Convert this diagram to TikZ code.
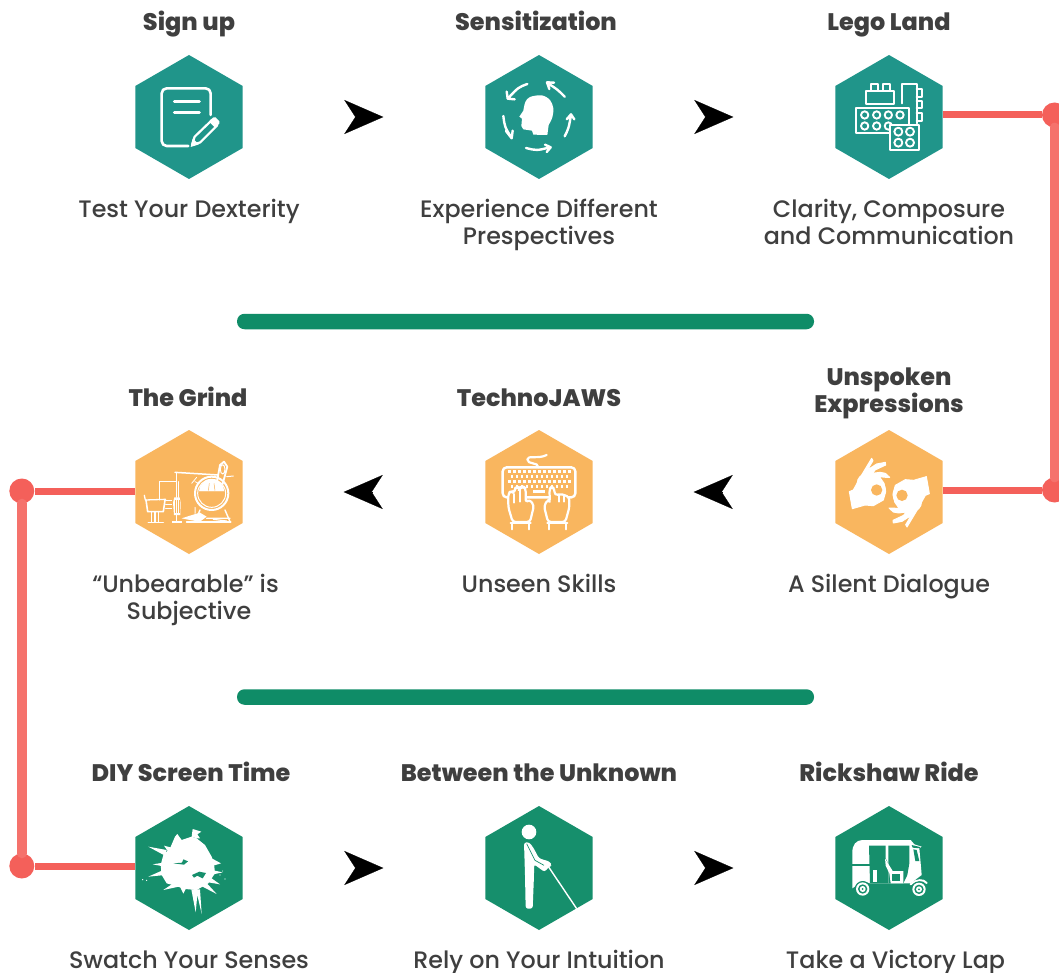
\documentclass[tikz,border=0pt]{standalone}
\usepackage{fontspec}
\setmainfont{Poppins}[UprightFont={* Medium}]
\newfontfamily\titlefont{Poppins}[UprightFont={* ExtraBold},BoldFont={* ExtraBold}]
\usetikzlibrary{arrows.meta,shapes.geometric}
\definecolor{tealA}{HTML}{20958A}
\definecolor{amberA}{HTML}{F9B65F}
\definecolor{greenA}{HTML}{168F6C}
\definecolor{barA}{HTML}{0F8C67}
\definecolor{linkA}{HTML}{F4605A}
\definecolor{linkB}{HTML}{F5726C}
\definecolor{inkA}{HTML}{3F3F3F}
\tikzset{
  hex/.style={regular polygon,regular polygon sides=6,shape border rotate=30,minimum size=124pt,inner sep=0pt,outer sep=0pt,fill=#1},
  ttl/.style={anchor=base,align=center,text=inkA,font=\titlefont\fontsize{23.9}{27}\selectfont},
  captxt/.style={anchor=base,align=center,text=inkA,font=\fontsize{23.8}{27}\selectfont},
  barnode/.style={rectangle,rounded corners=7.5pt,minimum width=577pt,minimum height=15.5pt,inner sep=0pt,fill=barA},
  link/.style={line width=7pt,color=linkA},
  vlink/.style={line width=10pt,color=linkB,line cap=round},
  dotnode/.style={circle,minimum size=25pt,inner sep=0pt,fill=linkA},
  flowR/.style={draw=black,line width=.2pt,shorten >=102pt,shorten <=114pt,-{Stealth[length=39pt,width=34pt,inset=11pt]}},
  flowL/.style={draw=black,line width=.2pt,shorten >=101pt,shorten <=113pt,-{Stealth[length=39pt,width=34pt,inset=11pt]}},
  wl/.style={draw=white,line cap=round,line join=round,line width=#1},
  wl/.default=2.4pt,
  zoomed/.style={shift={#1},x=1pt/3,y=-1pt/3},
}
\begin{document}
\begin{tikzpicture}[x=1pt,y=-1pt]
\path[clip] (0,0) rectangle (1059,973);
\fill[white] (0,0) rectangle (1059,973);

% dots
\node[dotnode] (d1) at (1054.5,115) {};
\node[dotnode] (d2) at (1054.5,490) {};
\node[dotnode] (d3) at (21.8,491) {};
\node[dotnode] (d4) at (21.8,866) {};

% hexagons
\node[hex=tealA] (signup) at (189,117) {};
\node[hex=tealA] (sens) at (539,117) {};
\node[hex=tealA] (lego) at (889,117) {};
\node[hex=amberA] (unspoken) at (889,492) {};
\node[hex=amberA] (techno) at (539,492) {};
\node[hex=amberA] (grind) at (189,492) {};
\node[hex=greenA] (diy) at (189,868) {};
\node[hex=greenA] (between) at (539,868) {};
\node[hex=greenA] (rick) at (889,868) {};

\draw[link] (lego.east |- d1) -- (d1);
\draw[link] (unspoken.east |- d2) -- (d2);
\draw[link] (grind.west |- d3) -- (d3);
\draw[link] (diy.west |- d4) -- (d4);
\draw[vlink] (d1) -- (d2);
\draw[vlink] (d3) -- (d4);

% flow arrows
\draw[flowR] (signup.east) -- (sens.west);
\draw[flowR] (sens.east) -- (lego.west);
\draw[flowL] (unspoken.west) -- (techno.east);
\draw[flowL] (techno.west) -- (grind.east);
\draw[flowR] (diy.east) -- (between.west);
\draw[flowR] (between.east) -- (rick.west);

% bars
\node[barnode] (bar1) at (525.5,321.5) {};
\node[barnode] (bar2) at (525.5,697) {};

% titles
\node[ttl] (t1) at (189,31) {Sign up};
\node[ttl] (t2) at (536,31) {Sensitization};
\node[ttl] (t3) at (889,31) {Lego Land};
\node[ttl] (t4) at (889,412) {Unspoken\\Expressions};
\node[ttl] (t5) at (539,406) {TechnoJAWS};
\node[ttl] (t6) at (188,406) {The Grind};
\node[ttl] (t7) at (191,781) {DIY Screen Time};
\node[ttl] (t8) at (539,781) {Between the Unknown};
\node[ttl] (t9) at (889,781) {Rickshaw Ride};
% captions
\node[captxt] (c1) at (189,217.5) {Test Your Dexterity};
\node[captxt] (c2) at (539,244.5) {Experience Different\\Prespectives};
\node[captxt] (c3) at (889,244.5) {Clarity, Composure\\and Communication};
\node[captxt] (c4) at (889,592.5) {A Silent Dialogue};
\node[captxt] (c5) at (539,592.5) {Unseen Skills};
\node[captxt] (c6) at (189,619.5) {“Unbearable” is\hspace*{7pt}\\Subjective};
\node[captxt] (c7) at (189,968) {Swatch Your Senses};
\node[captxt] (c8) at (539,968) {Rely on Your Intuition};
\node[captxt] (c9) at (895.5,968) {Take a Victory Lap};

% --- icon: note and pencil
\begin{scope}[zoomed={(120,40)}]
\draw[wl=2.6pt,rounded corners=5pt] (272,225) -- (272,145) -- (125,145) -- (125,318) -- (205,318);
\draw[wl=3pt] (163,186) -- (238,186) (163,218) -- (238,218);
\draw[wl=2.2pt,fill=tealA] (216,315) -- (224,290) -- (276,240) -- (292,256) -- (241,307) -- cycle;
\fill[white,rounded corners=1.5pt] (266,244) -- (284,229) -- (301,247) -- (286,264) -- cycle;
\fill[white] (212,321) -- (218,296) -- (237,313) -- cycle;
\end{scope}

% --- icon: head with arrows
\begin{scope}[zoomed={(470,40)}]
\fill[white] plot[smooth,tension=.55] coordinates {(160,212) (166,186) (180,171) (215,166) (240,180) (250,205) (247,232) (236,255)} -- (232,285) -- (190,284) -- (186,272) -- (160,268) -- (154,258) -- (156,236) -- (148,230) -- cycle;
\draw[wl=2.4pt] (172,132) .. controls (145,142) .. (114,175) (110,155) -- (113,176) -- (134,178);
\draw[wl=2.4pt] (100,228) .. controls (104,260) .. (124,293) (108,273) -- (125,295) -- (128,272);
\draw[wl=2.4pt] (168,324) .. controls (200,332) .. (240,322) (225,314) -- (242,322) -- (230,336);
\draw[wl=2.4pt] (284,289) .. controls (296,265) .. (303,225) (290,238) -- (303,223) -- (313,238);
\draw[wl=2.4pt] (284,170) .. controls (262,148) .. (232,129) (252,128) -- (231,127) -- (238,147);
\end{scope}

% --- icon: lego
\begin{scope}[zoomed={(820,40)}]
\draw[wl=1.9pt] (137,152) rectangle (222,192);
\draw[wl=1.9pt] (152,152) -- (152,133) -- (175,133) -- (175,152) (190,152) -- (190,133) -- (210,133) -- (210,152);
\draw[wl=1.9pt] (247,190) -- (247,133) -- (290,133) -- (290,205);
\draw[wl=1.9pt] (290,148) -- (307,148) -- (307,170) -- (290,170) (290,183) -- (307,183) -- (307,205) -- (290,205) (290,218) -- (307,218) -- (307,242) -- (290,242);
\draw[wl=1.9pt] (290,205) -- (290,250);
\draw[wl=1.9pt] (108,203) rectangle (268,280);
\foreach \cx in {134,170,205,240} \draw[wl=1.9pt] (\cx,225) circle[radius=11];
\foreach \cx in {134,170,205} \draw[wl=1.9pt] (\cx,258) circle[radius=11];
\draw[wl=1.9pt,fill=tealA] (210,255) rectangle (298,330);
\foreach \cx in {235,270} \foreach \cy in {275,308} \draw[wl=1.9pt] (\cx,\cy) circle[radius=12];
\end{scope}

% --- icon: signing hands
\def\handpath{(88,215) -- (100,210) -- (125,165) -- (155,115) -- (159,122) -- (142,150) -- (170,132) -- (196,127) -- (197,135) -- (165,150) -- (158,160) -- (180,157) -- (196,160) -- (209,172) -- (198,172) -- (178,170) -- (192,190) -- (197,215) -- (190,240) -- (160,257) -- (135,255) -- (97,266) -- cycle}
\begin{scope}[zoomed={(820,420)}]
\filldraw[white,line width=1pt,line join=round] \handpath;
\fill[white] (140,190) circle[radius=30] (170,210) circle[radius=28];
\fill[amberA] (170,210) circle[radius=17];
\begin{scope}[rotate around={180:(208,218)}]
\filldraw[white,line width=1pt,line join=round] \handpath;
\fill[white] (140,190) circle[radius=30] (170,210) circle[radius=28];
\fill[amberA] (170,210) circle[radius=17];
\end{scope}
\end{scope}

% --- icon: keyboard
\begin{scope}[zoomed={(470,420)}]
\draw[wl=2.2pt] (205,142) .. controls (205,125) and (172,135) .. (172,118) .. controls (172,105) and (205,118) .. (230,105);
\draw[wl=2.4pt,rounded corners=4pt] (98,142) rectangle (316,232);
\foreach \i in {0,...,12} \fill[white] (115+15*\i,151) rectangle +(8,8);
\foreach \i in {0,...,11} \fill[white] (122+15*\i,166) rectangle +(8,8);
\foreach \i in {0,...,12} \fill[white] (115+15*\i,180) rectangle +(8,8);
\foreach \i in {0,...,11} \fill[white] (122+15*\i,195) rectangle +(8,8);
\fill[white] (188,210) rectangle (226,218);
\draw[wl=2.2pt,fill=amberA,rounded corners=3pt] (128,306) -- (115,262) -- (115,220) -- (124,212) -- (132,220) -- (134,206) -- (142,200) -- (150,206) -- (152,204) -- (160,199) -- (167,206) -- (167,248) -- (178,238) -- (192,256) -- (180,306) -- cycle;
\draw[wl=2pt] (133,222) -- (133,248) (150,208) -- (150,245);
\draw[wl=2.2pt,fill=amberA,rounded corners=3pt] (234,306) -- (222,258) -- (234,238) -- (240,246) -- (238,208) -- (245,199) -- (254,208) -- (254,226) -- (270,222) -- (284,225) -- (298,232) -- (298,262) -- (286,306) -- cycle;
\draw[wl=2pt] (268,226) -- (268,245) (283,228) -- (283,245);
\draw[wl=2.2pt] (122,308) -- (182,308) (126,308) -- (126,328) (178,308) -- (178,328);
\draw[wl=2.2pt] (232,308) -- (292,308) (238,308) -- (238,328) (288,308) -- (288,328);
\end{scope}

% --- icon: machine
\begin{scope}[zoomed={(0,420)}]
\draw[wl=1.3pt] (433,226) -- (436,240) -- (497,238);
\draw[wl=1.6pt] (438,240) -- (443,275) -- (490,275) -- (495,240);
\draw[wl=1.4pt] (455,275) -- (455,305) (465,275) -- (465,305) (475,275) -- (475,305);
\draw[wl=1.6pt] (445,307) -- (490,307);
\draw[wl=1pt] (478,240) -- (478,183) -- (528,183);
\draw[wl=1pt] (497,240) -- (515,240) (497,252) -- (515,252) (497,264) -- (515,264);
\fill[white] (523,232) -- (539,232) -- (542,248) -- (541,285) -- (522,285) -- (519,248) -- cycle;
\draw[amberA,line width=.7pt] (527,240) -- (527,280) (532,240) -- (532,280) (537,240) -- (537,280);
\draw[wl=1.6pt] (530,232) -- (530,160) (530,285) -- (530,305);
\draw[wl=1pt] (535,185) -- (535,232);
\fill[white] (515,304) rectangle (545,309);
\draw[wl=1.5pt] (525,157) -- (655,165);
\draw[wl=2pt] (635,220) circle[radius=50];
\draw[wl=1pt] (635,220) circle[radius=42];
\fill[white] (597,215) arc[start angle=180,end angle=360,radius=38] -- cycle;
\fill[white] (635,184) -- (646,186) -- (652,212) -- (618,212) -- (624,186) -- cycle;
\draw[amberA,line width=.5pt] (597,215) -- (673,215) (612,240) -- (625,225) (635,250) -- (635,222) (658,240) -- (645,225) (625,212) -- (628,190) (645,212) -- (642,190);
\draw[wl=1.8pt] (650,190) -- (660,135) -- (672,125) -- (682,140) -- (668,192);
\draw[wl=1pt] (668,148) ellipse[x radius=7,y radius=14];
\draw[wl=1pt] (680,170) -- (700,168);
\draw[wl=.8pt] (575,190) -- (590,172) (585,185) -- (595,190);
\fill[white] (545,295) -- (570,287) -- (600,278) -- (620,290) -- (600,305) -- (570,300) -- cycle;
\draw[wl=1.4pt] (600,270) -- (585,305) (675,270) -- (690,305);
\draw[wl=1.8pt] (560,307) -- (692,307);
\draw[wl=1.2pt] (620,295) -- (690,295) (640,298) -- (680,303);
\draw[wl=1pt] (585,262) .. controls (580,270) and (590,270) .. (585,280);
\end{scope}

% --- icon: splat
\begin{scope}[zoomed={(0,795)}]
\fill[white] (525,125) -- (532,117) -- (545,135) -- (575,125) -- (590,130) -- (615,150) -- (635,185) -- (642,205) -- (645,235) -- (625,265) -- (590,285) -- (555,282) -- (525,272) -- (500,265) -- (485,240) -- (482,210) -- (490,180) -- (510,160) -- cycle;
\fill[white] (575,125) -- (578,102) -- (604,110) -- (592,118) -- (600,130) -- (590,130) -- cycle
  (635,190) -- (663,205) -- (640,212) -- cycle
  (640,226) -- (668,232) -- (640,238) -- cycle
  (632,248) -- (660,268) -- (625,262) -- cycle
  (618,262) -- (650,297) -- (606,274) -- cycle
  (574,283) -- (587,352) -- (592,300) -- (605,357) -- (600,283) -- cycle
  (520,265) -- (490,285) -- (536,275) -- cycle
  (540,275) -- (550,296) -- (558,280) -- cycle
  (490,225) -- (445,245) -- (495,240) -- cycle
  (490,203) -- (458,208) -- (490,214) -- cycle
  (500,165) -- (445,155) -- (495,182) -- cycle
  (505,170) -- (492,152) -- (515,158) -- cycle;
\fill[greenA] (520,205) -- (546,203) -- (550,193) -- (564,199) -- (552,209) -- cycle;
\fill[greenA] (576,240) -- (598,230) -- (618,234) -- (608,250) -- (592,242) -- (582,248) -- cycle;
\fill[white] (428,254) circle[radius=2] (440,256) circle[radius=2] (660,240) circle[radius=2] (675,252) circle[radius=2] (668,228) circle[radius=1.5];
\end{scope}

% --- icon: person with cane
\begin{scope}[zoomed={(470,795)}]
\fill[white] (177,111) circle[radius=22];
\fill[white,rounded corners=2.5pt] (162,142) -- (178,142) -- (190,158) -- (207,190) -- (240,200) -- (246,212) -- (238,214) -- (224,231) -- (192,208) -- (192,240) -- (188,341) -- (167,341) -- (165,240) -- cycle;
\draw[greenA,line width=.7pt] (170,146) -- (195,196) -- (222,211);
\draw[wl=1.4pt,line cap=butt] (236,216) -- (320,341);
\end{scope}

% --- icon: rickshaw
\begin{scope}[zoomed={(820,795)}]
\fill[white] (97,280) -- (97,172) .. controls (97,150) and (108,135) .. (128,135) -- (272,135) -- (283,148) -- (305,155) -- (298,160) -- (302,205) -- (305,240) -- (272,265) -- (150,265) -- (130,258) -- cycle;
\fill[greenA] (147,152) -- (197,152) -- (197,190) -- (204,205) -- (204,265) -- (150,265) -- cycle;
\fill[greenA] (205,152) -- (268,152) -- (268,205) -- (262,240) -- (250,265) -- (205,265) -- (205,205) -- cycle;
\fill[greenA] (97,207) rectangle (150,213);
\fill[greenA] (280,163) -- (290,165) -- (298,198) -- (286,198) -- cycle;
\fill[greenA] (275,150) -- (300,156) -- (300,160) -- (278,158) -- cycle;
\fill[white] (160,224) rectangle (170,262);
\fill[white] (195,190) -- (204,205) -- (218,228) -- (250,228) -- (250,265) -- (212,265) -- (208,235) -- (197,212) -- cycle;
\fill[greenA] (216,238) rectangle (240,258);
\fill[white] (240,228) rectangle (250,265);
\draw[wl=2pt] (272,268) .. controls (290,252) and (310,252) .. (320,264);
\foreach \wx/\wy in {128/282,297/283} {
  \fill[greenA] (\wx,\wy) circle[radius=24];
  \fill[white] (\wx,\wy) circle[radius=20];
  \fill[greenA] (\wx,\wy) circle[radius=14];
  \fill[white] (\wx,\wy) circle[radius=9];
  \fill[greenA] (\wx,\wy) circle[radius=3];
}
\end{scope}
\end{tikzpicture}
\end{document}
